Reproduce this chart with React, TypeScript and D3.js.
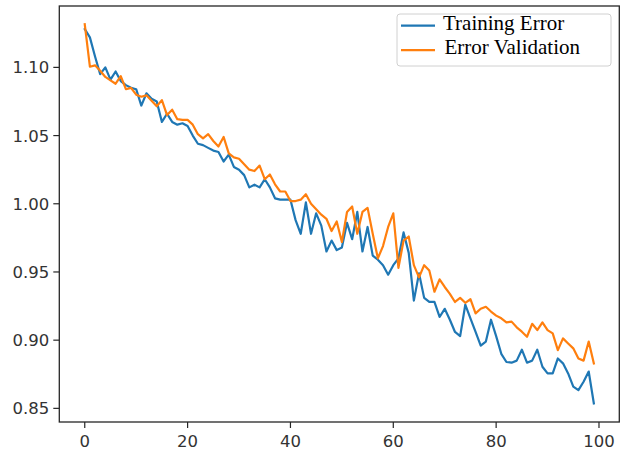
import React from 'react';
import * as d3 from 'd3';

// values (epochs 0..99)
const trainingError = [
  1.128, 1.122, 1.108, 1.095, 1.100, 1.091, 1.097, 1.090, 1.087, 1.085,
  1.084, 1.072, 1.081, 1.077, 1.075, 1.060, 1.066, 1.060, 1.058, 1.059,
  1.057, 1.050, 1.044, 1.043, 1.041, 1.039, 1.038, 1.031, 1.036, 1.027,
  1.025, 1.021, 1.012, 1.014, 1.012, 1.018, 1.012, 1.004, 1.003, 1.003,
  1.003, 0.988, 0.978, 1.001, 0.978, 0.993, 0.984, 0.965, 0.973, 0.966,
  0.968, 0.986, 0.974, 0.994, 0.965, 0.983, 0.962, 0.959, 0.955, 0.948,
  0.955, 0.960, 0.979, 0.964, 0.929, 0.949, 0.931, 0.928, 0.928, 0.917,
  0.923, 0.915, 0.906, 0.903, 0.926, 0.916, 0.906, 0.896, 0.899, 0.915,
  0.903, 0.890, 0.884, 0.8835, 0.885, 0.893, 0.8835, 0.885, 0.893, 0.8805,
  0.8756, 0.8756, 0.8866, 0.883, 0.8756, 0.866, 0.8634, 0.8695, 0.877, 0.8536,
];

const validationError = [
  1.1316, 1.1005, 1.1015, 1.0975, 1.093, 1.0905, 1.088, 1.0935, 1.084, 1.085,
  1.080, 1.0785, 1.0795, 1.0755, 1.0715, 1.076, 1.065, 1.069, 1.062, 1.0615,
  1.0615, 1.058, 1.051, 1.048, 1.051, 1.046, 1.042, 1.049, 1.037, 1.034,
  1.033, 1.029, 1.025, 1.024, 1.028, 1.018, 1.0215, 1.0143, 1.009, 1.009,
  1.002, 1.002, 1.003, 1.007, 1.000, 0.996, 0.992, 0.989, 0.980, 0.987,
  0.972, 0.994, 0.998, 0.978, 0.994, 0.997, 0.978, 0.960, 0.969, 0.983,
  0.993, 0.953, 0.973, 0.976, 0.955, 0.946, 0.955, 0.951, 0.9355, 0.9446,
  0.939, 0.934, 0.928, 0.931, 0.9274, 0.930, 0.9196, 0.923, 0.9245, 0.921,
  0.918, 0.916, 0.913, 0.9136, 0.9094, 0.9062, 0.9025, 0.912, 0.9074, 0.913,
  0.9074, 0.905, 0.8927, 0.9013, 0.8976, 0.894, 0.8866, 0.885, 0.899, 0.883,
];

const xTicks = [0, 20, 40, 60, 80, 100];
const yTicks = [0.85, 0.9, 0.95, 1.0, 1.05, 1.1];
const legendLabels = ['Training Error', 'Error Validation'];
const colors = ['#1f77b4', '#ff7f0e'];

const W = 623;
const H = 450;
const box = {left: 59.3, right: 619.3, top: 6, bottom: 422};

export default function App() {
  const x = d3.scaleLinear().domain([-4.95, 103.95]).range([box.left, box.right]);
  const y = d3.scaleLinear().domain([0.84, 1.145]).range([box.bottom, box.top]);

  const line = d3.line<number>()
    .x((d, i) => x(i))
    .y(d => y(d));

  const series = [trainingError, validationError];
  const tickFont = '"DejaVu Sans", sans-serif';

  return (
    <svg width={W} height={H} style={{position: 'absolute', left: 0, top: 0, background: '#fff'}}>
      {/* data lines */}
      {series.map((s, k) => (
        <path key={k} d={line(s) || ''} fill="none" stroke={colors[k]}
          strokeWidth={2.2} strokeLinejoin="round" strokeLinecap="square" />
      ))}

      {/* spines */}
      <rect x={box.left} y={box.top} width={box.right - box.left} height={box.bottom - box.top}
        fill="none" stroke="#262626" strokeWidth={1.3} />

      {/* x axis ticks */}
      {xTicks.map(t => (
        <g key={'x' + t}>
          <line x1={x(t)} x2={x(t)} y1={box.bottom} y2={box.bottom + 6} stroke="#262626" strokeWidth={1.2} />
          <text x={x(t)} y={box.bottom + 25} textAnchor="middle" fontFamily={tickFont}
            fontSize={16.5} fill="#333">{t}</text>
        </g>
      ))}

      {/* y axis ticks */}
      {yTicks.map(t => (
        <g key={'y' + t}>
          <line x1={box.left - 6} x2={box.left} y1={y(t)} y2={y(t)} stroke="#262626" strokeWidth={1.2} />
          <text x={box.left - 10} y={y(t)} dy="0.36em" textAnchor="end" fontFamily={tickFont}
            fontSize={16.5} fill="#333">{t.toFixed(2)}</text>
        </g>
      ))}

      {/* legend */}
      <rect x={397} y={14} width={214} height={52} rx={3} fill="#fff" fillOpacity={0.8}
        stroke="#d0d0d0" strokeWidth={1} />
      {legendLabels.map((lab, k) => (
        <g key={lab}>
          <line x1={401} x2={435} y1={25.7 + k * 24.5} y2={25.7 + k * 24.5}
            stroke={colors[k]} strokeWidth={2.2} />
          <text x={443 + k * 1.5} y={29.5 + k * 24.5} fontFamily={'"Liberation Serif", "Times New Roman", serif'}
            fontSize={21} fill="#000">{lab}</text>
        </g>
      ))}
    </svg>
  );
}
